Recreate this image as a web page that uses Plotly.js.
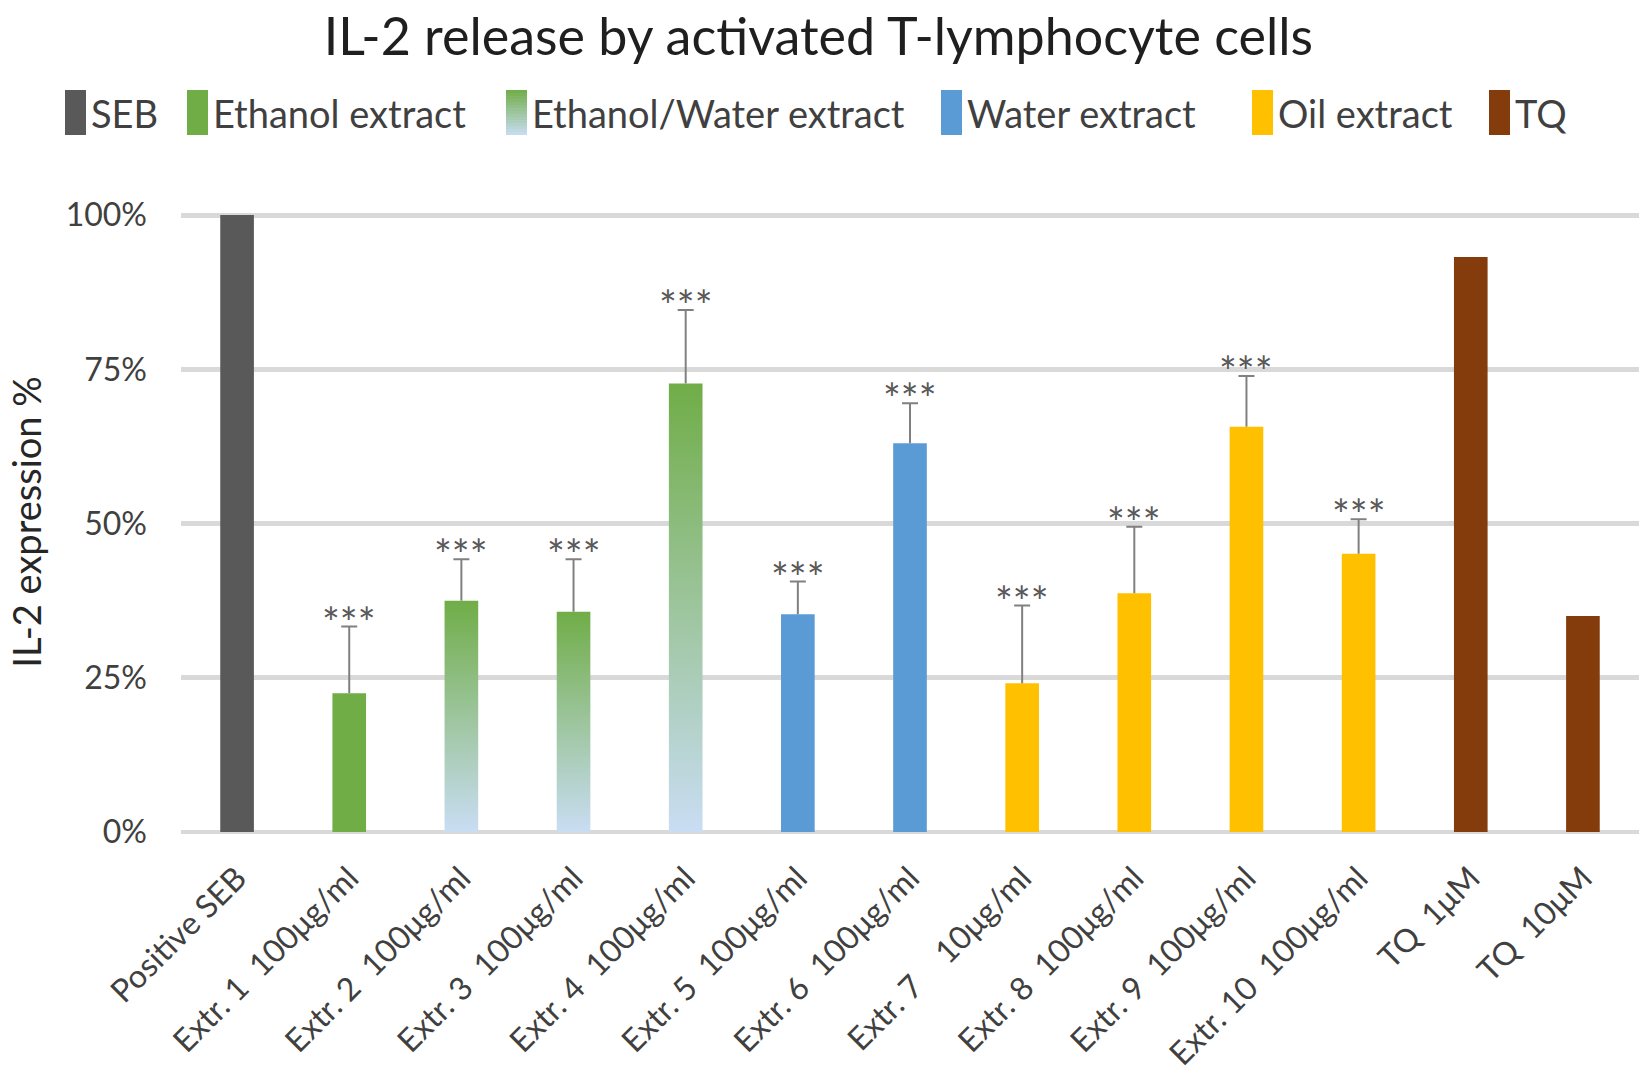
<!DOCTYPE html>
<html>
<head>
<meta charset="utf-8">
<script src="https://cdn.plot.ly/plotly-3.0.1.min.js"></script>
<style>
  body { margin: 0; background: #fff; }
  #chart { width: 1650px; height: 1077px; }
</style>
</head>
<body>
<div id="chart"></div>
<script>
// tick labels, in plot order
var labels = ['Positive SEB', 'Extr. 1  100μg/ml', 'Extr. 2  100μg/ml', 'Extr. 3  100μg/ml',
  'Extr. 4  100μg/ml', 'Extr. 5  100μg/ml', 'Extr. 6  100μg/ml', 'Extr. 7    10μg/ml',
  'Extr. 8  100μg/ml', 'Extr. 9  100μg/ml', 'Extr. 10  100μg/ml', 'TQ  1μM', 'TQ  10μM'];
// IL-2 expression (%) and upper error
var values = [100, 22.5, 37.5, 35.7, 72.7, 35.3, 63.0, 24.1, 38.7, 65.7, 45.1, 93.2, 35.0];
var errors = [0, 10.8, 6.7, 8.5, 11.9, 5.3, 6.5, 12.6, 10.8, 8.2, 5.6, 0, 0];
var stars = ['', '***', '***', '***', '***', '***', '***', '***', '***', '***', '***', '', ''];
// which group each bar belongs to
var groups = ['SEB', 'Ethanol extract', 'Ethanol/Water extract', 'Ethanol/Water extract',
  'Ethanol/Water extract', 'Water extract', 'Water extract', 'Oil extract',
  'Oil extract', 'Oil extract', 'Oil extract', 'TQ', 'TQ'];
var groupNames = ['SEB', 'Ethanol extract', 'Ethanol/Water extract', 'Water extract', 'Oil extract', 'TQ'];
var groupColors = ['#595959', '#70AD47', '#70AD47', '#5B9BD5', '#FFC000', '#843C0C'];
var gradientGroup = 'Ethanol/Water extract';
var gradTop = [112, 173, 71], gradBottom = [201, 221, 243];
var gradientScale = [[0, 'rgb(' + gradBottom + ')'], [1, 'rgb(' + gradTop + ')']];

var barW = 0.3;
var fontFam = 'Lato, "Open Sans", sans-serif';
var textCol = '#404040';

// plot area in pixels (also used for placing the hand made legend)
var L = 181, R = 1639, B = 832, PT = 212;
function px(x) { return (x - L) / (R - L); }
function py(y) { return (B - y) / (B - PT); }

var traces = [];
groupNames.forEach(function (g, gi) {
  var xs = [], ys = [], up = [], down = [];
  labels.forEach(function (l, i) {
    if (groups[i] === g) {
      xs.push(i); ys.push(values[i]); up.push(errors[i]); down.push(0);
    }
  });
  var isGrad = (g === gradientGroup);
  var hasErr = up.some(function (e) { return e > 0; });
  traces.push({
    type: 'bar', x: xs, y: ys, width: barW, name: g, showlegend: false,
    marker: { color: isGrad ? 'rgba(0,0,0,0)' : groupColors[gi], line: { width: 0 } },
    error_y: { type: 'data', symmetric: false, array: up, arrayminus: down, visible: hasErr,
      color: '#808080', thickness: 2, width: 0 },
    hoverinfo: 'x+y'
  });
  if (isGrad) {
    // gradient bars: one filled outline per bar, built from the bar value
    xs.forEach(function (x, k) {
      var y = ys[k];
      traces.push({
        type: 'scatter', mode: 'lines', name: g, showlegend: false,
        x: [x - barW / 2, x + barW / 2, x + barW / 2, x - barW / 2, x - barW / 2],
        y: [0, 0, y, y, 0],
        fill: 'toself', line: { width: 0, color: 'rgba(0,0,0,0)' },
        fillgradient: { type: 'vertical', colorscale: gradientScale },
        hoverinfo: 'skip'
      });
    });
  }
});

// caps at the top of the error bars
var capX = [], capY = [], capZero = [];
errors.forEach(function (e, i) {
  if (e > 0) { capX.push(i); capY.push(values[i] + e); capZero.push(0); }
});
traces.push({
  type: 'scatter', mode: 'markers', x: capX, y: capY, showlegend: false, hoverinfo: 'skip',
  marker: { size: 1, opacity: 0 },
  error_y: { type: 'data', array: capZero, visible: true, color: '#808080', thickness: 2, width: 8 }
});

var annotations = [];
stars.forEach(function (s, i) {
  if (!s) return;
  annotations.push({
    x: i, y: values[i] + errors[i], xref: 'x', yref: 'y',
    text: s, showarrow: false, yanchor: 'bottom', yshift: -22,
    font: { family: fontFam, size: 42, color: '#595959' }
  });
});

// legend drawn by hand, Excel style tall swatches
var legendSwatchX = [65, 187, 506, 941, 1252, 1489];
var shapes = [];
groupNames.forEach(function (g, gi) {
  var x0 = legendSwatchX[gi], x1 = x0 + 21, yTop = 90, yBot = 135;
  if (g === gradientGroup) {
    var n = 15;
    for (var k = 0; k < n; k++) {
      var f = (k + 0.5) / n;
      var c = gradTop.map(function (t, j) { return Math.round(t + (gradBottom[j] - t) * f); });
      shapes.push({ type: 'rect', xref: 'paper', yref: 'paper', layer: 'above',
        x0: px(x0), x1: px(x1), y0: py(yTop + (yBot - yTop) * k / n), y1: py(yTop + (yBot - yTop) * (k + 1) / n),
        fillcolor: 'rgb(' + c + ')', line: { width: 0 } });
    }
  } else {
    shapes.push({ type: 'rect', xref: 'paper', yref: 'paper', layer: 'above',
      x0: px(x0), x1: px(x1), y0: py(yTop), y1: py(yBot),
      fillcolor: groupColors[gi], line: { width: 0 } });
  }
  annotations.push({
    xref: 'paper', yref: 'paper', x: px(x1 + 3), y: py(113), xanchor: 'left', yanchor: 'middle',
    text: g, showarrow: false, font: { family: fontFam, size: 38, color: textCol }
  });
});

var layout = {
  width: 1650, height: 1077,
  paper_bgcolor: '#fff', plot_bgcolor: '#fff',
  margin: { l: L, r: 1650 - R, t: PT, b: 1077 - B },
  font: { family: fontFam, color: textCol },
  title: {
    text: 'IL-2 release by activated T-lymphocyte cells',
    font: { family: fontFam, size: 52, color: '#1f1f1f' },
    x: 0.496, xanchor: 'center', y: 0.966, yanchor: 'middle'
  },
  barmode: 'overlay',
  showlegend: false,
  xaxis: {
    range: [-0.5, 12.5],
    tickmode: 'array', tickvals: labels.map(function (l, i) { return i; }), ticktext: labels,
    tickangle: -45, tickfont: { family: fontFam, size: 32, color: textCol },
    ticklabelstandoff: 20,
    showgrid: false, zeroline: false, showline: false, ticks: ''
  },
  yaxis: {
    range: [0, 100.5], tickmode: 'array', tickvals: [0, 25, 50, 75, 100],
    ticktext: ['0%', '25%', '50%', '75%', '100%'],
    tickfont: { family: fontFam, size: 32, color: textCol },
    ticklabelstandoff: 33,
    title: { text: 'IL-2 expression %', font: { family: fontFam, size: 38, color: '#262626' }, standoff: 12 },
    showgrid: true, gridcolor: '#D9D9D9', gridwidth: 5,
    zeroline: true, zerolinecolor: '#D9D9D9', zerolinewidth: 4,
    showline: false, ticks: ''
  },
  shapes: shapes,
  annotations: annotations
};

Plotly.newPlot('chart', traces, layout, { displayModeBar: false });
</script>
</body>
</html>
